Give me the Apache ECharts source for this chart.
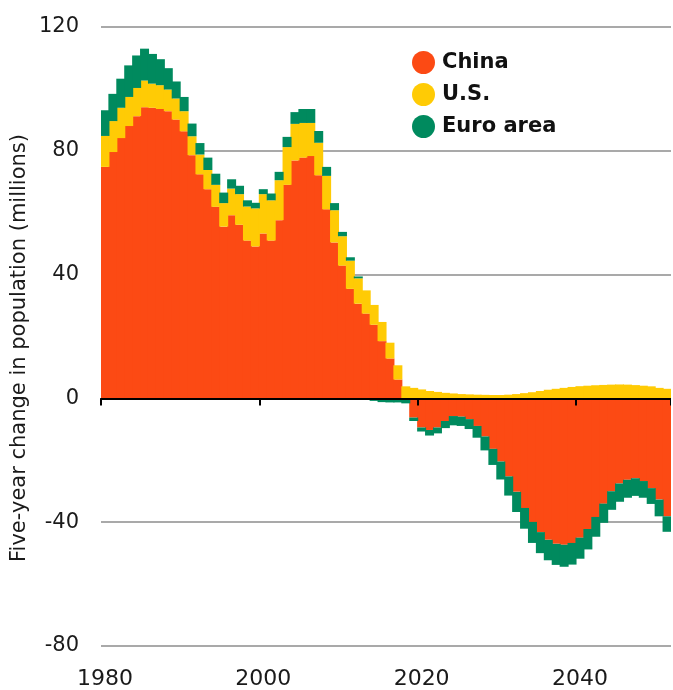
<!DOCTYPE html>
<html>
<head>
<meta charset="utf-8">
<script src="https://cdn.jsdelivr.net/npm/echarts@6/dist/echarts.min.js"></script>
<style>
  html, body { margin: 0; padding: 0; background: #fff; }
  /* canvas ends at 671px so the last (partial) year is cut like in the print */
  #chart { width: 671px; height: 690px; }
</style>
</head>
<body>
<div id="chart"></div>
<script>
// ----------------- D A T A ----------------- //
const years = [
  '1980', '1981', '1982', '1983', '1984', '1985', '1986', '1987', '1988', '1989',
  '1990', '1991', '1992', '1993', '1994', '1995', '1996', '1997', '1998', '1999',
  '2000', '2001', '2002', '2003', '2004', '2005', '2006', '2007', '2008', '2009',
  '2010', '2011', '2012', '2013', '2014', '2015', '2016', '2017', '2018', '2019',
  '2020', '2021', '2022', '2023', '2024', '2025', '2026', '2027', '2028', '2029',
  '2030', '2031', '2032', '2033', '2034', '2035', '2036', '2037', '2038', '2039',
  '2040', '2041', '2042', '2043', '2044', '2045', '2046', '2047', '2048', '2049',
  '2050', '2051'
]

const china = [
  74.8, 79.6, 84.1, 88.0, 91.2, 94.1, 93.9, 93.5, 92.8, 90.1,
  86.3, 78.6, 72.4, 67.6, 61.9, 55.5, 59.2, 56.1, 51.0, 49.1,
  53.3, 51.0, 57.6, 69.0, 76.9, 77.8, 78.3, 72.1, 61.1, 50.4,
  42.9, 35.4, 30.6, 27.4, 23.8, 18.5, 12.9, 6.1, 0, -6.2,
  -9.4, -10.2, -9.4, -7.3, -5.7, -5.9, -6.7, -8.9, -12.3, -16.3,
  -20.4, -25.2, -30.2, -35.4, -39.9, -43.2, -45.7, -47.0, -47.3, -46.7,
  -45.0, -42.2, -38.3, -34.0, -30.0, -27.5, -26.3, -25.8, -26.7, -29.0,
  -32.7, -38.1
]

const us = [
  10.0, 10.0, 9.8, 9.4, 9.1, 8.6, 7.8, 7.7, 7.0, 6.8,
  6.5, 6.1, 6.4, 6.2, 7.1, 7.6, 8.6, 9.9, 11.0, 12.3,
  12.7, 13.0, 12.9, 12.2, 11.8, 11.2, 10.7, 10.5, 10.8, 10.4,
  9.5, 9.1, 8.2, 7.5, 6.4, 6.2, 5.1, 4.6, 3.9, 3.4,
  2.9, 2.4, 2.1, 1.8, 1.6, 1.4, 1.3, 1.2, 1.15, 1.1,
  1.1, 1.2, 1.4, 1.7, 2.0, 2.4, 2.8, 3.1, 3.4, 3.7,
  3.95, 4.1, 4.25, 4.35, 4.45, 4.5, 4.45, 4.3, 4.1, 3.9,
  3.4, 3.1
]

const euro = [
  8.3, 8.8, 9.4, 10.2, 10.5, 10.3, 9.6, 8.4, 6.9, 5.5,
  4.6, 4.1, 3.7, 4.0, 3.6, 3.4, 3.0, 2.7, 2.0, 1.8,
  1.6, 2.2, 2.7, 3.3, 3.8, 4.5, 4.5, 3.8, 2.9, 2.3,
  1.4, 1.1, 0.6, -0.3, -0.8, -1.2, -1.3, -1.3, -1.6, -1.1,
  -1.3, -1.8, -1.9, -2.3, -3.0, -3.0, -3.2, -3.8, -4.5, -5.2,
  -5.8, -6.2, -6.5, -6.7, -6.8, -6.8, -6.6, -6.8, -7.1, -7.0,
  -6.8, -6.6, -6.4, -6.2, -6.0, -5.9, -5.8, -5.7, -5.4, -5.1,
  -5.4, -5.0
]

const labelEvery = 20

// ----------------- C O N S T A N T ----------------- //
const font = 'DejaVu Sans'
const colors = ['#FC4A14', '#FFCB05', '#008A5E']

const everyTwenty = (index) => index % labelEvery === 0

const barSeries = (name, vals, color) => ({
  name: name,
  type: 'bar',
  stack: 'total',
  // bands are 8px; a slightly wider bar overlaps its neighbours so no seams show
  barWidth: 9,
  xAxisIndex: 0,
  itemStyle: { color: color },
  emphasis: { disabled: true },
  data: vals
})

const option = {
  animation: false,
  color: colors,
  // 72 years x 8px, the last one runs off the canvas edge
  grid: { left: 101, top: 27, width: 576, height: 621 },
  legend: {
    orient: 'vertical',
    left: 412,
    top: 51,
    padding: 0,
    icon: 'circle',
    itemWidth: 23,
    itemHeight: 23,
    itemGap: 9,
    selectedMode: false,
    textStyle: {
      fontFamily: font,
      fontWeight: 'bold',
      fontSize: 21,
      lineHeight: 23,
      color: '#111',
      padding: [0, 0, 0, 2]
    },
    data: ['China', 'U.S.', 'Euro area']
  },
  xAxis: [
    {
      // labels at the bottom
      type: 'category',
      data: years,
      position: 'bottom',
      axisLine: { show: false, onZero: false },
      axisTick: { show: false },
      splitLine: { show: false },
      axisLabel: {
        interval: everyTwenty,
        fontFamily: font,
        fontSize: 22,
        color: '#1a1a1a',
        margin: 22
      }
    },
    {
      // zero line with ticks
      type: 'category',
      data: years,
      position: 'top',
      z: 5,
      axisLine: { show: true, onZero: true, lineStyle: { color: '#000', width: 2 } },
      axisTick: {
        show: true,
        inside: true,
        length: 7,
        interval: everyTwenty,
        lineStyle: { color: '#000', width: 2 }
      },
      axisLabel: { show: false },
      splitLine: { show: false }
    }
  ],
  yAxis: {
    type: 'value',
    min: -80,
    max: 120,
    interval: 40,
    axisLine: { show: false },
    axisTick: { show: false },
    splitLine: { lineStyle: { color: '#8c8c8c', width: 1.5 } },
    axisLabel: {
      fontFamily: font,
      fontSize: 21,
      color: '#1a1a1a',
      margin: 22
    }
  },
  graphic: [
    {
      type: 'text',
      x: 20,
      y: 348,
      rotation: Math.PI / 2,
      style: {
        text: 'Five-year change in population (millions)',
        fontFamily: font,
        fontSize: 21,
        fill: '#1a1a1a',
        align: 'center',
        verticalAlign: 'middle'
      }
    }
  ],
  series: [
    barSeries('China', china, colors[0]),
    barSeries('U.S.', us, colors[1]),
    barSeries('Euro area', euro, colors[2])
  ]
}

const myChart = echarts.init(document.getElementById('chart'))
myChart.setOption(option)
</script>
</body>
</html>
